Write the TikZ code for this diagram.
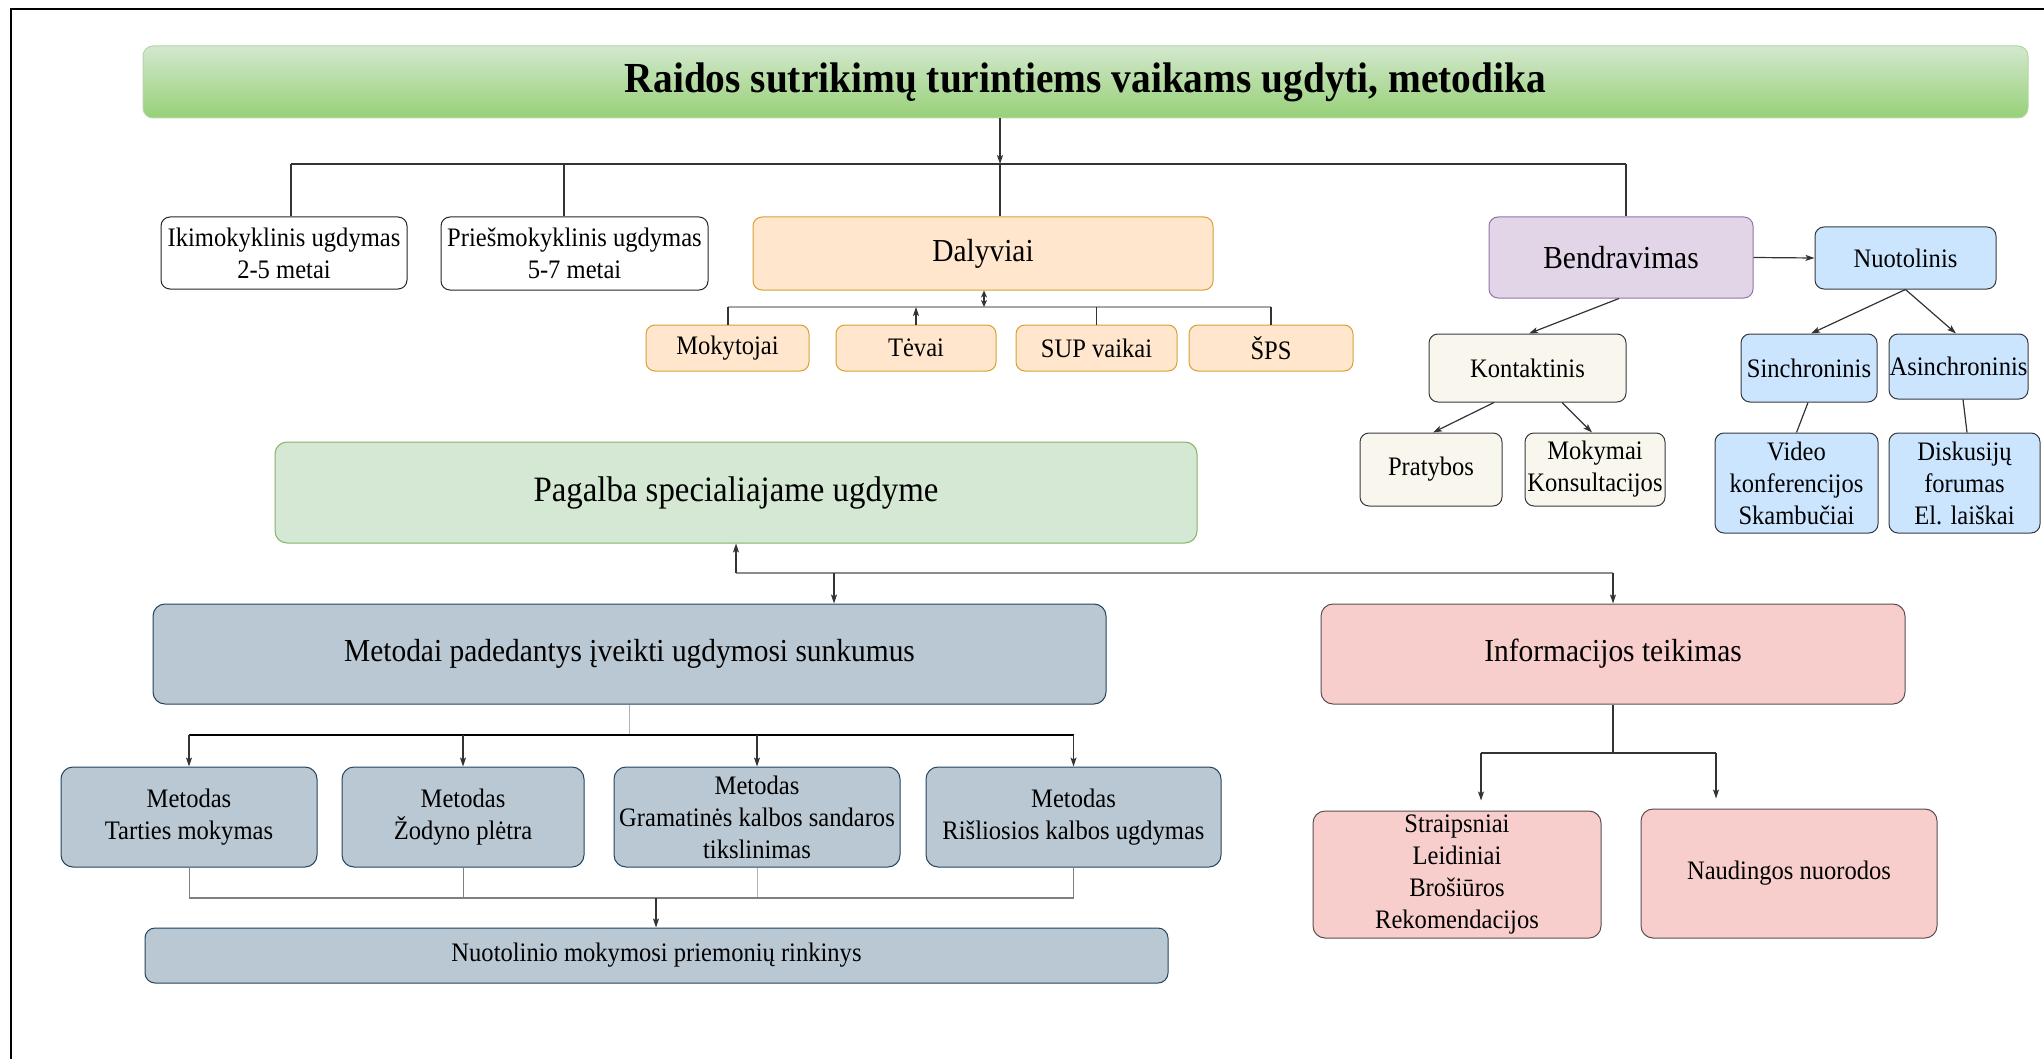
\documentclass[tikz,border=0pt]{standalone}
\usepackage{fontspec}
\setmainfont[FakeStretch=0.92]{Liberation Serif}
\usetikzlibrary{arrows.meta}

% fill / stroke colours
\definecolor{gTop}{HTML}{D3E8CE}
\definecolor{gBot}{HTML}{97D077}
\definecolor{gLine}{HTML}{B5D6A7}
\definecolor{oFill}{HTML}{FFE6CC}
\definecolor{oLine}{HTML}{D7A030}
\definecolor{pFill}{HTML}{E1D5E7}
\definecolor{pLine}{HTML}{9673A6}
\definecolor{bFill}{HTML}{CCE5FF}
\definecolor{cFill}{HTML}{F9F7ED}
\definecolor{dkLine}{HTML}{36393D}
\definecolor{lgFill}{HTML}{D5E8D4}
\definecolor{lgLine}{HTML}{82B366}
\definecolor{sFill}{HTML}{BAC8D3}
\definecolor{sLine}{HTML}{23445D}
\definecolor{rFill}{HTML}{F8CECC}
\definecolor{rLine}{HTML}{5A4D4D}

\newcommand\fsS{\fontsize{26.7pt}{32pt}\selectfont}
\newcommand\fsM{\fontsize{32pt}{38pt}\selectfont}
\newcommand\fsL{\fontsize{35.7pt}{42pt}\selectfont}
\newcommand\fsT{\fontsize{42.8pt}{50pt}\selectfont\bfseries}

\begin{document}
\begin{tikzpicture}[x=1pt,y=-1pt,
  box/.style={draw, rounded corners=9pt, inner sep=0pt, align=center, font=\fsS, line width=1pt},
  wbox/.style={box, fill=white, draw=black!85},
  obox/.style={box, fill=oFill, draw=oLine},
  pbox/.style={box, fill=pFill, draw=pLine},
  bbox/.style={box, fill=bFill, draw=dkLine},
  cbox/.style={box, fill=cFill, draw=dkLine},
  gbox/.style={box, fill=lgFill, draw=lgLine},
  sbox/.style={box, fill=sFill, draw=sLine},
  rbox/.style={box, fill=rFill, draw=rLine},
  ln/.style={draw=black!80, line width=1.2pt},
  lgln/.style={draw=black!35, line width=2pt},
  gln/.style={draw=black!50, line width=1.5pt},
  arr/.style={-{Stealth[length=9pt,width=6pt,inset=2pt]}},
  dblarr/.style={{Stealth[length=7pt,width=6pt,inset=2pt]}-{Stealth[length=7pt,width=6pt,inset=2pt]}}
]
\useasboundingbox (0,0) rectangle (2044,1059);

% frame lines
\draw[line width=2pt] (11,1059) -- (11,9.5) -- (2044,9.5);

% title
\node[box, rounded corners=10pt, top color=gTop, bottom color=gBot, draw=gLine,
      minimum width=1885pt, minimum height=72pt, font=\fsT] (title) at (1085.5,82)
  {Raidos sutrikimų turintiems vaikams ugdyti, metodika};

% first row
\node[wbox, minimum width=246pt, minimum height=72pt] (iki) at (284,253)
  {Ikimokyklinis ugdymas\\2-5 metai};
\node[wbox, minimum width=267pt, minimum height=73pt] (pries) at (574.5,253.5)
  {Priešmokyklinis ugdymas\\5-7 metai};
\node[obox, minimum width=460pt, minimum height=73pt, font=\fsM] (dal) at (983,253.5) {Dalyviai};
\node[pbox, minimum width=264pt, minimum height=81pt, font=\fsM] (bend) at (1621,257.5) {Bendravimas};
\node[bbox, minimum width=181pt, minimum height=62pt] (nuot) at (1905.5,258) {Nuotolinis};

% participants
\node[obox, minimum width=163pt, minimum height=46pt] (mok) at (727.5,348) {Mokytojai};
\node[obox, minimum width=160pt, minimum height=46pt] (tev) at (916,348) {Tėvai};
\node[obox, minimum width=161pt, minimum height=46pt] (sup) at (1096.5,348) {SUP vaikai};
\node[obox, minimum width=164pt, minimum height=46pt] (sps) at (1271,348) {ŠPS};

% communication branch
\node[cbox, minimum width=197pt, minimum height=68pt] (kont) at (1527.5,368) {Kontaktinis};
\node[cbox, minimum width=142pt, minimum height=73pt] (prat) at (1431,469.5) {Pratybos};
\node[cbox, minimum width=140pt, minimum height=73pt] (mkons) at (1595,469.5) {Mokymai\\Konsultacijos};
\node[bbox, minimum width=136pt, minimum height=68pt] (sinc) at (1809,368) {Sinchroninis};
\node[bbox, minimum width=139pt, minimum height=65pt] (asinc) at (1958.5,366.5) {Asinchroninis};
\node[bbox, minimum width=163pt, minimum height=100pt] (video) at (1796.5,483)
  {Video\\konferencijos\\Skambučiai};
\node[bbox, minimum width=151pt, minimum height=100pt] (disk) at (1964.5,483)
  {Diskusijų\\forumas\\El. laiškai};

% support
\node[gbox, rounded corners=12pt, minimum width=922pt, minimum height=101pt, font=\fsL] (pag) at (736,492.5)
  {Pagalba specialiajame ugdyme};
\node[sbox, rounded corners=12pt, minimum width=953pt, minimum height=100pt, font=\fsM] (met) at (629.5,654)
  {Metodai padedantys įveikti ugdymosi sunkumus};
\node[rbox, rounded corners=12pt, minimum width=584pt, minimum height=100pt, font=\fsM] (info) at (1613,654)
  {Informacijos teikimas};

% methods
\node[sbox, rounded corners=12pt, minimum width=256pt, minimum height=100pt] (m1) at (189,817)
  {Metodas\\Tarties mokymas};
\node[sbox, rounded corners=12pt, minimum width=242pt, minimum height=100pt] (m2) at (463,817)
  {Metodas\\Žodyno plėtra};
\node[sbox, rounded corners=12pt, minimum width=286pt, minimum height=100pt] (m3) at (757,817)
  {Metodas\\Gramatinės kalbos sandaros\\tikslinimas};
\node[sbox, rounded corners=12pt, minimum width=295pt, minimum height=100pt] (m4) at (1073.5,817)
  {Metodas\\Rišliosios kalbos ugdymas};
\node[sbox, rounded corners=10pt, minimum width=1023pt, minimum height=55pt] (nrink) at (656.5,955.5)
  {Nuotolinio mokymosi priemonių rinkinys};

% information items
\node[rbox, rounded corners=12pt, minimum width=288pt, minimum height=127pt] (strp) at (1457,874.5)
  {Straipsniai\\Leidiniai\\Brošiūros\\Rekomendacijos};
\node[rbox, rounded corners=12pt, minimum width=296pt, minimum height=129pt] (naud) at (1789,873.5)
  {Naudingos nuorodos};

% ---- connectors: top level
\coordinate (busL) at (291,164);
\coordinate (busP) at (564,164);
\coordinate (busM) at (1000,164);
\coordinate (busR) at (1626,164);
\draw[ln, arr] (title.south -| busM) -- (busM);
\draw[ln] (busL) -- (busR);
\draw[ln] (busL) -- (iki.north -| busL);
\draw[ln] (busP) -- (pries.north -| busP);
\draw[ln] (busM) -- (dal.north -| busM);
\draw[ln] (busR) -- (bend.north -| busR);

% participants
\coordinate (dbL) at (728,307);
\coordinate (dbR) at (1271,307);
\coordinate (dbD) at (984,307);
\draw[lgln] (dbL) -- (dbR);
\draw[ln, dblarr] (dal.south -| dbD) -- (dbD);
\draw[ln] (dbL) -- (mok.north -| dbL);
\draw[ln, arr] (tev.north) -- (tev.north |- dbL);
\draw[ln] (sup.north |- dbL) -- (sup.north);
\draw[ln] (dbR) -- (sps.north);

% communication
\draw[ln, arr] (bend.east) -- (nuot.west);
\draw[ln, arr] ([xshift=-2pt]bend.south) -- ([xshift=1.5pt]kont.north);
\draw[ln, arr] (nuot.south) -- ([xshift=2pt]sinc.north);
\draw[ln, arr] (nuot.south) -- ([xshift=-2.5pt]asinc.north);
\draw[ln, arr] ([xshift=-33.5pt]kont.south) -- ([xshift=2pt]prat.north);
\draw[ln, arr] ([xshift=34.5pt]kont.south) -- ([xshift=-3pt]mkons.north);
\draw[ln] ([xshift=-1pt]sinc.south) -- (video.north);
\draw[ln] ([xshift=4.5pt]asinc.south) -- ([xshift=2.5pt]disk.north);

% support level
\coordinate (pbL) at (736,573);
\coordinate (pbM) at (834,573);
\coordinate (pbR) at (1613,573);
\draw[lgln, draw=black!45] (pbL) -- (pbR);
\draw[ln, arr] (pbL) -- (pag.south);
\draw[ln, arr] (pbM) -- (met.north -| pbM);
\draw[ln, arr] (pbR) -- (info.north);

% methods
\coordinate (mbL) at (189,735);
\coordinate (mbR) at (1074,735);
\draw[draw=black!30, line width=1pt] (met.south) -- (met.south |- mbL);
\draw[draw=black, line width=2pt] (mbL) -- (mbR);
\foreach \m in {m1,m2,m3,m4}
  \draw[ln, arr] (\m.north |- mbL) -- (\m.north);

\coordinate (nbL) at (189,898);
\coordinate (nbR) at (1074,898);
\coordinate (nbM) at (656,898);
\foreach \m in {m1,m2,m4}
  \draw[gln, line width=1pt] (\m.south) -- (\m.south |- nbL);
\draw[draw=black!30, line width=1pt] (m3.south) -- (m3.south |- nbL);
\draw[gln] (nbL) -- (nbR);
\draw[ln, arr] (nbM) -- (nrink.north -| nbM);

% information
\coordinate (ibL) at (1481,753);
\coordinate (ibR) at (1716,753);
\draw[ln] (info.south) -- (info.south |- ibL);
\draw[ln] (ibL) -- (ibR);
\draw[ln, arr, shorten >=10pt] (ibL) -- (strp.north -| ibL);
\draw[ln, arr, shorten >=10pt] (ibR) -- (naud.north -| ibR);
\end{tikzpicture}
\end{document}
